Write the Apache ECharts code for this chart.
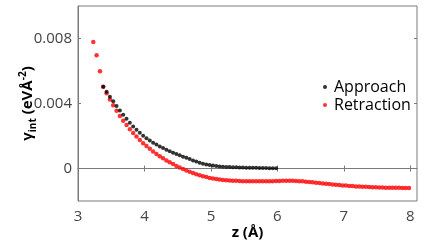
<!DOCTYPE html>
<html>
<head>
<meta charset="utf-8">
<script src="https://cdn.jsdelivr.net/npm/echarts@6/dist/echarts.min.js"></script>
<style>html,body{margin:0;padding:0;background:#fff}#c{width:444px;height:242px}</style>
</head>
<body>
<div id="c"></div>
<script>
// z (Å) and gamma_int (eV/Å^2) values
const zApproach = [3.38,3.43,3.48,3.53,3.58,3.63,3.68,3.73,3.78,3.83,3.88,3.93,3.98,4.03,4.08,4.13,4.18,4.23,4.28,4.33,4.38,4.43,4.48,4.53,4.58,4.63,4.68,4.73,4.78,4.83,4.88,4.93,4.98,5.03,5.08,5.13,5.18,5.23,5.28,5.33,5.38,5.43,5.48,5.53,5.58,5.63,5.68,5.73,5.78,5.83,5.88,5.93,5.98];
const gammaApproach = [0.00503,0.00473,0.00442,0.00414,0.00384,0.00357,0.00331,0.00306,0.00282,0.00259,0.00239,0.00220,0.00202,0.00186,0.00172,0.00159,0.00147,0.00136,0.00126,0.00116,0.00106,0.00097,0.00089,0.00081,0.00073,0.00066,0.00058,0.00050,0.00043,0.00036,0.00030,0.00025,0.00021,0.00018,0.00015,0.00013,0.00011,0.00010,0.00009,0.00008,0.00007,0.00006,0.00006,0.00005,0.00005,0.00004,0.00004,0.00003,0.00003,0.00003,0.00002,0.00002,0.00002];
const zRetraction = [3.23,3.28,3.33,3.38,3.43,3.48,3.53,3.58,3.63,3.68,3.73,3.78,3.83,3.88,3.93,3.98,4.03,4.08,4.13,4.18,4.23,4.28,4.33,4.38,4.43,4.48,4.53,4.58,4.63,4.68,4.73,4.78,4.83,4.88,4.93,4.98,5.03,5.08,5.13,5.18,5.23,5.28,5.33,5.38,5.43,5.48,5.53,5.58,5.63,5.68,5.73,5.78,5.83,5.88,5.93,5.98,6.03,6.08,6.13,6.18,6.23,6.28,6.33,6.38,6.43,6.48,6.53,6.58,6.63,6.68,6.73,6.78,6.83,6.88,6.93,6.98,7.03,7.08,7.13,7.18,7.23,7.28,7.33,7.38,7.43,7.48,7.53,7.58,7.63,7.68,7.73,7.78,7.83,7.88,7.93,7.98];
const gammaRetraction = [0.00778,0.00697,0.00598,0.00503,0.00463,0.00425,0.00389,0.00355,0.00323,0.00294,0.00267,0.00242,0.00219,0.00197,0.00176,0.00156,0.00138,0.00121,0.00105,0.00090,0.00076,0.00063,0.00050,0.00038,0.00027,0.00016,0.00006,-0.00003,-0.00012,-0.00020,-0.00028,-0.00035,-0.00042,-0.00048,-0.00053,-0.00058,-0.00062,-0.00065,-0.00068,-0.00070,-0.00072,-0.00074,-0.00075,-0.00076,-0.00077,-0.00078,-0.00078,-0.00079,-0.00079,-0.00079,-0.00079,-0.00079,-0.00079,-0.00078,-0.00078,-0.00077,-0.00077,-0.00076,-0.00076,-0.00076,-0.00076,-0.00077,-0.00078,-0.00079,-0.00081,-0.00083,-0.00085,-0.00087,-0.00089,-0.00092,-0.00094,-0.00096,-0.00098,-0.00100,-0.00102,-0.00104,-0.00105,-0.00107,-0.00108,-0.00110,-0.00111,-0.00112,-0.00113,-0.00114,-0.00115,-0.00116,-0.00117,-0.00117,-0.00118,-0.00118,-0.00119,-0.00119,-0.00119,-0.00120,-0.00120,-0.00120];
const xTicks = [3,4,5,6,7,8];
const yTickLabels = [0, 0.004, 0.008];
const seriesNames = ['Approach','Retraction'];

const pairs = (xs, ys) => xs.map((x, i) => [x, ys[i]]);
const FONT = '"Open Sans", "DejaVu Sans", sans-serif';
const AX = '#7a7a7a';

const chart = echarts.init(document.getElementById('c'), null, {renderer: 'canvas'});
chart.setOption({
  animation: false,
  backgroundColor: '#fff',
  grid: {left: 78, right: 27, top: 6, bottom: 41, containLabel: false, outerBoundsMode: 'none',
    show: true, borderColor: AX, borderWidth: 1, backgroundColor: 'transparent'},
  legend: {
    orient: 'vertical', left: 318, top: 74, itemGap: 2,
    itemWidth: 8, itemHeight: 4, icon: 'circle',
    textStyle: {fontFamily: FONT, fontSize: 16, color: '#000', lineHeight: 16},
    data: seriesNames
  },
  xAxis: [{
    type: 'value', min: 3, max: 8.1, interval: 1, position: 'bottom',
    axisLine: {show: true, lineStyle: {color: AX}},
    axisTick: {show: true, inside: true, length: 3, lineStyle: {color: AX}, customValues: xTicks},
    axisLabel: {fontFamily: FONT, fontSize: 15, color: '#444', margin: 8, customValues: xTicks},
    splitLine: {show: false},
    name: 'z (Å)', nameLocation: 'middle', nameGap: 24, nameMoveOverlap: false,
    nameTextStyle: {fontFamily: FONT, fontSize: 15, fontWeight: 'bold', color: '#000'}
  }, {
    type: 'value', min: 3, max: 8.1, interval: 1, position: 'top',
    axisLine: {show: false}, axisLabel: {show: false}, splitLine: {show: false},
    axisTick: {show: true, inside: true, length: 3, lineStyle: {color: AX}, customValues: xTicks}
  }],
  yAxis: [{
    type: 'value', min: -0.002, max: 0.01, interval: 0.002, position: 'left',
    axisLine: {show: true, lineStyle: {color: AX}},
    axisTick: {show: true, inside: true, length: 3, lineStyle: {color: AX}, customValues: yTickLabels},
    axisLabel: {fontFamily: FONT, fontSize: 15, color: '#444', margin: 6, customValues: yTickLabels,
      formatter: v => (Math.abs(v) < 1e-9 ? '0' : (Math.round(v * 1000) / 1000).toFixed(3))},
    splitLine: {show: false},
    name: '{a|γ}{sub|int}{a| (eVÅ}{sup|-2}{a|)}', nameLocation: 'middle', nameGap: 40, nameRotate: 90,
    nameMoveOverlap: false,
    nameTextStyle: {
      fontFamily: FONT, fontSize: 15, fontWeight: 'bold', color: '#000',
      rich: {
        a: {fontFamily: FONT, fontSize: 15, fontWeight: 'bold', color: '#000', lineHeight: 20, verticalAlign: 'middle'},
        sub: {fontFamily: FONT, fontSize: 10, fontWeight: 'bold', color: '#000', lineHeight: 20, verticalAlign: 'bottom'},
        sup: {fontFamily: FONT, fontSize: 10, fontWeight: 'bold', color: '#000', lineHeight: 20, verticalAlign: 'top'}
      }
    }
  }, {
    type: 'value', min: -0.002, max: 0.01, interval: 0.002, position: 'right',
    axisLine: {show: false}, axisLabel: {show: false}, splitLine: {show: false},
    axisTick: {show: true, inside: true, length: 3, lineStyle: {color: AX}, customValues: yTickLabels}
  }],
  series: [{
    name: seriesNames[0], type: 'scatter', symbol: 'circle', symbolSize: 4,
    itemStyle: {color: '#000'}, data: pairs(zApproach, gammaApproach), z: 3
  }, {
    name: seriesNames[1], type: 'scatter', symbol: 'circle', symbolSize: 4.5,
    itemStyle: {color: '#ff0000'}, data: pairs(zRetraction, gammaRetraction), z: 2
  }]
});
</script>
</body>
</html>
